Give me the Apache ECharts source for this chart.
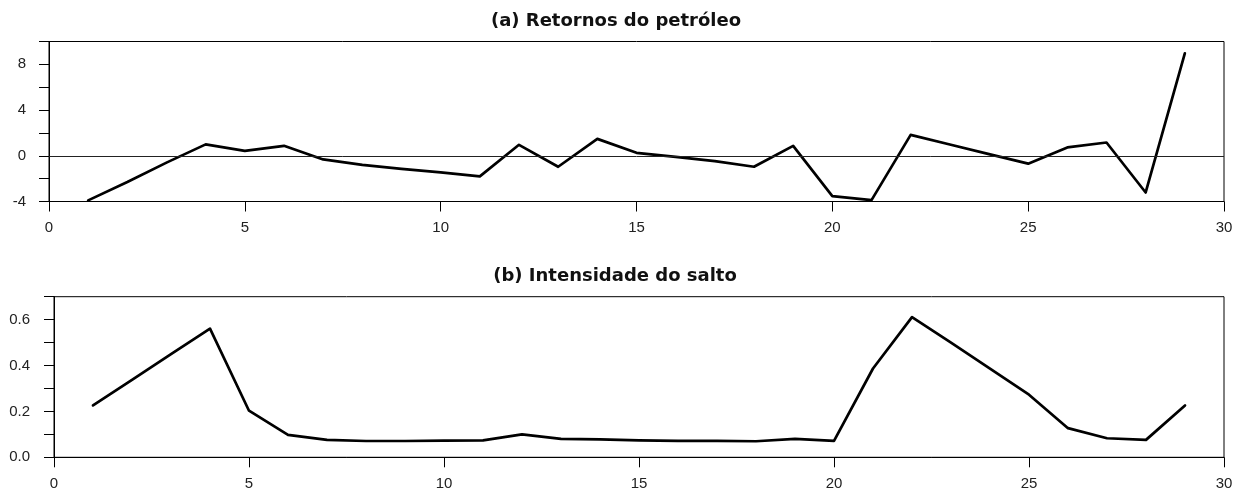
<!DOCTYPE html>
<html>
<head>
<meta charset="utf-8">
<script src="https://cdn.jsdelivr.net/npm/echarts@6/dist/echarts.min.js"></script>
<style>
  html, body { margin: 0; padding: 0; background: #ffffff; }
  #chart { width: 1241px; height: 492px; }
</style>
</head>
<body>
<div id="chart"></div>
<script>
// Time index (observations 1..29)
const periods = [1, 2, 3, 4, 5, 6, 7, 8, 9, 10, 11, 12, 13, 14, 15, 16, 17, 18, 19, 20, 21, 22, 23, 24, 25, 26, 27, 28, 29];

// (a) Oil returns
const oilReturns = [-3.9, -2.3, -0.6, 1.0, 0.43, 0.87, -0.32, -0.8, -1.15, -1.45, -1.8, 0.96, -0.96, 1.48, 0.26,
  -0.09, -0.46, -0.96, 0.87, -3.53, -3.88, 1.83, 0.99, 0.15, -0.69, 0.73, 1.16, -3.21, 8.96];

// (b) Jump intensity
const jumpIntensity = [0.226, 0.338, 0.45, 0.561, 0.203, 0.098, 0.076, 0.071, 0.071, 0.073, 0.074, 0.10, 0.080,
  0.078, 0.074, 0.072, 0.072, 0.070, 0.080, 0.072, 0.387, 0.611, 0.50, 0.387, 0.273, 0.127, 0.083, 0.076, 0.226];

const panelTitles = ['(a) Retornos do petróleo', '(b) Intensidade do salto'];

const FONT = 'Liberation Sans';
const INK = '#000000';

function pairs(xs, ys) { return xs.map((x, i) => [x, ys[i]]); }

function xAxisFor(gridIndex) {
  return {
    type: 'value', gridIndex, min: 0, max: 30, interval: 5,
    axisLine: { show: true, onZero: false, lineStyle: { color: INK, width: 1 } },
    axisTick: { show: true, inside: false, length: 10, lineStyle: { color: INK, width: 1 } },
    axisLabel: { margin: 19, color: '#222', fontFamily: FONT, fontSize: 15 },
    splitLine: { show: false }
  };
}

const chart = echarts.init(document.getElementById('chart'), null, { renderer: 'canvas' });

chart.setOption({
  animation: false,
  backgroundColor: '#ffffff',
  graphic: [
    { type: 'text', x: 616, y: 21, style: { text: panelTitles[0], font: 'bold 18px "DejaVu Sans", sans-serif', fill: '#111', align: 'center', verticalAlign: 'middle' } },
    { type: 'text', x: 615, y: 276, style: { text: panelTitles[1], font: 'bold 18px "DejaVu Sans", sans-serif', fill: '#111', align: 'center', verticalAlign: 'middle' } }
  ],
  grid: [
    { left: 49, right: 17, top: 41.5, height: 160, show: true, borderColor: INK, borderWidth: 1, backgroundColor: 'transparent' },
    { left: 54, right: 17, top: 296.7, height: 160.6, show: true, borderColor: INK, borderWidth: 1, backgroundColor: 'transparent' }
  ],
  xAxis: [xAxisFor(0), xAxisFor(1)],
  yAxis: [
    {
      type: 'value', gridIndex: 0, min: -4, max: 10, interval: 2,
      axisLine: { show: true, onZero: false, lineStyle: { color: INK, width: 1 } },
      axisTick: { show: true, length: 10, lineStyle: { color: INK, width: 1 } },
      axisLabel: {
        margin: 23, color: '#222', fontFamily: FONT, fontSize: 15,
        formatter: v => (v % 4 === 0 ? String(v) : '')
      },
      splitLine: { show: false }
    },
    {
      type: 'value', gridIndex: 1, min: 0, max: 0.7, interval: 0.1,
      axisLine: { show: true, onZero: false, lineStyle: { color: INK, width: 1 } },
      axisTick: { show: true, length: 10, lineStyle: { color: INK, width: 1 } },
      axisLabel: {
        margin: 24, color: '#222', fontFamily: FONT, fontSize: 15,
        formatter: v => {
          const k = Math.round(v * 10);
          return (k % 2 === 0 && k < 7) ? (k / 10).toFixed(1) : '';
        }
      },
      splitLine: { show: false }
    }
  ],
  series: [
    {
      type: 'line', xAxisIndex: 0, yAxisIndex: 0,
      data: pairs(periods, oilReturns),
      showSymbol: false, symbol: 'none',
      lineStyle: { color: INK, width: 2.7, join: 'round', cap: 'round' },
      markLine: {
        silent: true, symbol: ['none', 'none'], label: { show: false },
        lineStyle: { color: '#222', width: 1, type: 'solid' },
        data: [{ yAxis: 0 }]
      }
    },
    {
      type: 'line', xAxisIndex: 1, yAxisIndex: 1,
      data: pairs(periods, jumpIntensity),
      showSymbol: false, symbol: 'none',
      lineStyle: { color: INK, width: 2.7, join: 'round', cap: 'round' }
    }
  ]
});
</script>
</body>
</html>
